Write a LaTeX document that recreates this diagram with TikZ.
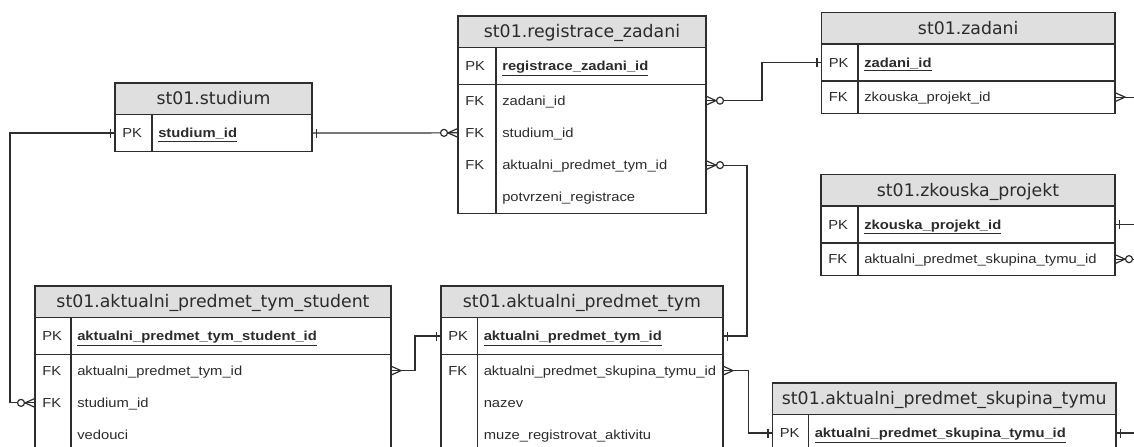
\documentclass[tikz,border=0pt]{standalone}
\usepackage{fontspec}
\newfontfamily\hdrfont{DejaVu Sans}
\newfontfamily\bodyfont[FakeStretch=1.13]{Liberation Sans}
\definecolor{lc}{HTML}{2E2E2E}
\definecolor{hf}{HTML}{DFDFDF}
\definecolor{tc}{HTML}{2B2B2B}
\tikzset{
 tw/.style={minimum width=#1*0.75pt},
 rh/.style={minimum height=#1*0.75pt},
 hdr/.style={draw=lc, line width=1pt, fill=hf, anchor=north west, inner sep=0pt, outer sep=0pt, rh=31.5,
   font=\hdrfont\fontsize{13pt}{15pt}\selectfont, text=tc, text height=10pt, text depth=1pt},
 rowbox/.style={anchor=north west, inner sep=0pt, outer sep=0pt},
 tbl/.style={draw=lc, line width=1pt},
 key/.style={anchor=base west, inner sep=0pt, font=\bodyfont\fontsize{9.8pt}{11pt}\selectfont, text=tc},
 fld/.style={key},
 pkf/.style={key, font=\bodyfont\fontsize{9.8pt}{11pt}\selectfont\bfseries},
 conn/.style={draw=lc, line width=0.9pt},
 erone/.pic={\draw[conn] (4.5,-4.5) -- (4.5,4.5);},
 ermany/.pic={\draw[conn] (0,-4.5) -- (10,0) -- (0,4.5); \draw[conn] (0,0) -- (10,0);},
 erzmany/.pic={\draw[conn] (0,-4.5) -- (10,0) -- (0,4.5); \draw[conn] (0,0) -- (10,0);
   \draw[conn, fill=white] (14,0) circle[radius=3.5];}
}
\begin{document}
\begin{tikzpicture}[x=0.75pt,y=-0.75pt]
\useasboundingbox (0,0) rectangle (1134,446);
\clip (0,0) rectangle (1134,446);

% ---------- st01.studium
\node[rowbox, tw=197, rh=37] (st-pk) at (115,114.5) {};
\draw[tbl] (st-pk.north west) rectangle (st-pk.south east);
\draw[tbl] (152,114.5) -- (152,151.5);
\node[hdr, tw=197] (st) at (115,83) {st01.studium};
\node[key] at (122,137.5) {PK};
\node[pkf] at (158,137.5) {\underline{studium\_id}};

% ---------- st01.registrace_zadani
\node[rowbox, tw=248, rh=37] (rz-pk) at (458,47.5) {};
\node[rowbox, tw=248, rh=32.25] (rz-zad) at (rz-pk.south west) {};
\node[rowbox, tw=248, rh=32.25] (rz-stud) at (rz-zad.south west) {};
\node[rowbox, tw=248, rh=32.25] (rz-apt) at (rz-stud.south west) {};
\node[rowbox, tw=248, rh=32.25] (rz-pot) at (rz-apt.south west) {};
\draw[tbl] (rz-pk.north west) rectangle (rz-pot.south east);
\draw[tbl] (rz-pk.south west) -- (rz-pk.south east);
\draw[tbl] (496,47.5) -- (496,213.5);
\node[hdr, tw=248] (rz) at (458,16) {st01.registrace\_zadani};
\node[key] at (465,70.5) {PK};
\node[pkf] at (502,70.5) {\underline{registrace\_zadani\_id}};
\node[key] at (465,105.1) {FK};
\node[fld] at (502,105.1) {zadani\_id};
\node[key] at (465,137.4) {FK};
\node[fld] at (502,137.4) {studium\_id};
\node[key] at (465,169.6) {FK};
\node[fld] at (502,169.6) {aktualni\_predmet\_tym\_id};
\node[fld] at (502,201.9) {potvrzeni\_registrace};

% ---------- st01.zadani
\node[rowbox, tw=293.5, rh=37] (za-pk) at (821.5,44) {};
\node[rowbox, tw=293.5, rh=32.25] (za-fk) at (za-pk.south west) {};
\draw[tbl] (za-pk.north west) rectangle (za-fk.south east);
\draw[tbl] (za-pk.south west) -- (za-pk.south east);
\draw[tbl] (858,44) -- (858,113.25);
\node[hdr, tw=293.5] (za) at (821.5,12.5) {st01.zadani};
\node[key] at (828.5,67) {PK};
\node[pkf] at (864,67) {\underline{zadani\_id}};
\node[key] at (828.5,101.6) {FK};
\node[fld] at (864,101.6) {zkouska\_projekt\_id};

% ---------- st01.zkouska_projekt
\node[rowbox, tw=294, rh=37] (zp-pk) at (821,206) {};
\node[rowbox, tw=294, rh=32.25] (zp-fk) at (zp-pk.south west) {};
\draw[tbl] (zp-pk.north west) rectangle (zp-fk.south east);
\draw[tbl] (zp-pk.south west) -- (zp-pk.south east);
\draw[tbl] (858,206) -- (858,275.25);
\node[hdr, tw=294] (zp) at (821,174.5) {st01.zkouska\_projekt};
\node[key] at (828,229) {PK};
\node[pkf] at (864,229) {\underline{zkouska\_projekt\_id}};
\node[key] at (828,263.6) {FK};
\node[fld] at (864,263.6) {aktualni\_predmet\_skupina\_tymu\_id};

% ---------- st01.aktualni_predmet_tym_student
\node[rowbox, tw=356, rh=37] (aps-pk) at (35,317.5) {};
\node[rowbox, tw=356, rh=32.25] (aps-apt) at (aps-pk.south west) {};
\node[rowbox, tw=356, rh=32.25] (aps-stud) at (aps-apt.south west) {};
\node[rowbox, tw=356, rh=32.25] (aps-ved) at (aps-stud.south west) {};
\draw[tbl] (aps-pk.north west) rectangle (aps-ved.south east);
\draw[tbl] (aps-pk.south west) -- (aps-pk.south east);
\draw[tbl] (71,317.5) -- (71,451.25);
\node[hdr, tw=356] (aps) at (35,286) {st01.aktualni\_predmet\_tym\_student};
\node[key] at (42,340.5) {PK};
\node[pkf] at (77,340.5) {\underline{aktualni\_predmet\_tym\_student\_id}};
\node[key] at (42,375.1) {FK};
\node[fld] at (77,375.1) {aktualni\_predmet\_tym\_id};
\node[key] at (42,407.4) {FK};
\node[fld] at (77,407.4) {studium\_id};
\node[fld] at (77,439.6) {vedouci};

% ---------- st01.aktualni_predmet_tym
\node[rowbox, tw=282, rh=37] (apt-pk) at (441,317.5) {};
\node[rowbox, tw=282, rh=32.25] (apt-sk) at (apt-pk.south west) {};
\node[rowbox, tw=282, rh=32.25] (apt-naz) at (apt-sk.south west) {};
\node[rowbox, tw=282, rh=32.25] (apt-muz) at (apt-naz.south west) {};
\draw[tbl] (apt-pk.north west) rectangle (apt-muz.south east);
\draw[tbl] (apt-pk.south west) -- (apt-pk.south east);
\draw[tbl] (477.5,317.5) -- (477.5,451.25);
\node[hdr, tw=282] (apt) at (441,286) {st01.aktualni\_predmet\_tym};
\node[key] at (448,340.5) {PK};
\node[pkf] at (483.5,340.5) {\underline{aktualni\_predmet\_tym\_id}};
\node[key] at (448,375.1) {FK};
\node[fld] at (483.5,375.1) {aktualni\_predmet\_skupina\_tymu\_id};
\node[fld] at (483.5,407.4) {nazev};
\node[fld] at (483.5,439.6) {muze\_registrovat\_aktivitu};

% ---------- st01.aktualni_predmet_skupina_tymu
\node[rowbox, tw=343.5, rh=37] (apsk-pk) at (772.5,414.5) {};
\draw[tbl] (apsk-pk.north west) rectangle (apsk-pk.south east);
\draw[tbl] (808.5,414.5) -- (808.5,451.5);
\node[hdr, tw=343.5] (apsk) at (772.5,383) {st01.aktualni\_predmet\_skupina\_tymu};
\node[key] at (779.5,437.5) {PK};
\node[pkf] at (814.5,437.5) {\underline{aktualni\_predmet\_skupina\_tymu\_id}};

% ---------- connectors
\coordinate (j1) at (10,250);
\draw[conn] (st-pk.west) -| (j1) |- (aps-stud.west);
\pic[xscale=-1] at (st-pk.west) {erone};
\pic[xscale=-1] at (aps-stud.west) {erzmany};

\draw[conn] (st-pk.east) -- (rz-stud.west);
\pic at (st-pk.east) {erone};
\pic[xscale=-1] at (rz-stud.west) {erzmany};

\coordinate (j3) at (762,80);
\draw[conn] (rz-zad.east) -| (j3) |- (za-pk.west);
\pic at (rz-zad.east) {erzmany};
\pic[xscale=-1] at (za-pk.west) {erone};

\coordinate (j4) at (747,250);
\draw[conn] (rz-apt.east) -| (j4) |- (apt-pk.east);
\pic at (rz-apt.east) {erzmany};
\pic at (apt-pk.east) {erone};

\coordinate (j5) at (415,350);
\draw[conn] (aps-apt.east) -| (j5) |- (apt-pk.west);
\pic at (aps-apt.east) {ermany};
\pic[xscale=-1] at (apt-pk.west) {erone};

\coordinate (j6) at (748.5,400);
\draw[conn] (apt-sk.east) -| (j6) |- (apsk-pk.west);
\pic at (apt-sk.east) {ermany};
\pic[xscale=-1] at (apsk-pk.west) {erone};

\coordinate (j7) at (1150,160);
\draw[conn] (za-fk.east) -| (j7) |- (zp-pk.east);
\pic at (za-fk.east) {ermany};
\pic at (zp-pk.east) {erone};

\coordinate (j8) at (1160,350);
\draw[conn] (zp-fk.east) -| (j8) |- (apsk-pk.east);
\pic at (zp-fk.east) {erzmany};
\pic at (apsk-pk.east) {erone};
\end{tikzpicture}
\end{document}
